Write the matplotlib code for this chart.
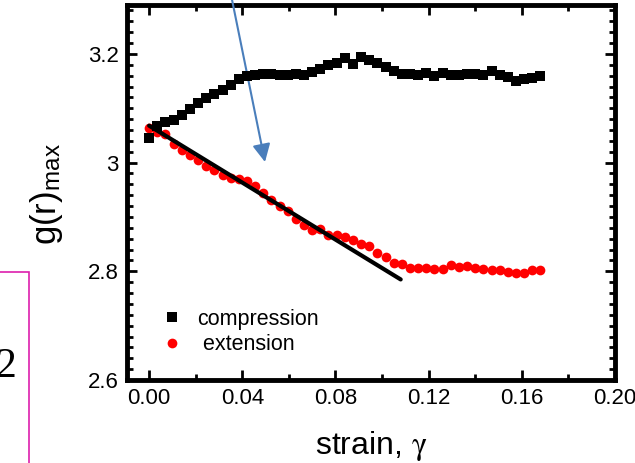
import numpy as np
import matplotlib.pyplot as plt
from matplotlib.patches import Rectangle

plt.rcParams['font.family'] = ['Liberation Sans', 'DejaVu Sans']
plt.rcParams['mathtext.fontset'] = 'stix'

strain = [0.0, 0.0035, 0.007, 0.0105, 0.014, 0.0175, 0.021, 0.0245, 0.028, 0.0315,
          0.035, 0.0385, 0.042, 0.0455, 0.049, 0.0525, 0.056, 0.0595, 0.063, 0.0665,
          0.07, 0.0735, 0.077, 0.0805, 0.084, 0.0875, 0.091, 0.0945, 0.098, 0.1015,
          0.105, 0.1085, 0.112, 0.1155, 0.119, 0.1225, 0.126, 0.1295, 0.133, 0.1365,
          0.14, 0.1435, 0.147, 0.1505, 0.154, 0.1575, 0.161, 0.1645, 0.168]

compression = [3.045, 3.068, 3.075, 3.078, 3.088, 3.098, 3.110, 3.118, 3.127, 3.133,
               3.143, 3.153, 3.159, 3.161, 3.163, 3.163, 3.161, 3.161, 3.163, 3.161,
               3.167, 3.173, 3.180, 3.184, 3.192, 3.182, 3.194, 3.188, 3.184, 3.175,
               3.169, 3.163, 3.163, 3.161, 3.165, 3.159, 3.165, 3.161, 3.161, 3.163,
               3.163, 3.161, 3.169, 3.161, 3.157, 3.151, 3.153, 3.155, 3.159]

extension = [3.063, 3.057, 3.053, 3.035, 3.024, 3.014, 3.004, 2.994, 2.987, 2.978,
             2.972, 2.970, 2.966, 2.957, 2.944, 2.931, 2.920, 2.911, 2.896, 2.885,
             2.876, 2.878, 2.867, 2.867, 2.863, 2.857, 2.850, 2.846, 2.833, 2.826,
             2.815, 2.813, 2.806, 2.806, 2.806, 2.804, 2.804, 2.811, 2.807, 2.809,
             2.806, 2.804, 2.802, 2.802, 2.798, 2.797, 2.797, 2.802, 2.802]

# linear fit over the early extension regime
fit_x = [0.0, 0.108]
fit_y = [3.068, 2.785]

fig = plt.figure(figsize=(6.35, 4.63), dpi=100)
ax = fig.add_axes([0.2, 0.1793, 0.7685, 0.8099])

ax.plot(strain, extension, 'o', color='red', ms=7, mew=0, label=' extension', zorder=2)
ax.plot(fit_x, fit_y, '-', color='black', lw=3, solid_capstyle='round', zorder=3)
ax.plot(strain, compression, 's', color='black', ms=6.5, mew=0, label='compression', zorder=4)

ax.set_xlim(-0.0095, 0.2)
ax.set_ylim(2.6, 3.29)
ax.set_xticks([0.0, 0.04, 0.08, 0.12, 0.16, 0.20])
ax.set_xticklabels(['0.00', '0.04', '0.08', '0.12', '0.16', '0.20'])
ax.set_xticks(np.arange(0.0, 0.201, 0.02), minor=True)
ax.set_yticks([2.6, 2.8, 3.0, 3.2])
ax.set_yticklabels(['2.6', '2.8', '3', '3.2'])
ax.set_yticks(np.arange(2.6, 3.29, 0.02), minor=True)

for s in ax.spines.values():
    s.set_linewidth(3.5)
ax.tick_params(which='both', direction='in', top=True, right=True, labelsize=16, colors='black')
ax.tick_params(which='major', length=7, width=2, pad=6)
ax.tick_params(which='minor', length=4, width=2)

ax.set_xlabel(r'strain, $\mathrm{\gamma}$', fontsize=23, labelpad=14)
ax.set_ylabel(r'g(r)$_{\mathregular{max}}$', fontsize=25)
ax.yaxis.set_label_coords(-0.128, 0.495)

h, l = ax.get_legend_handles_labels()
ax.legend(h[::-1], l[::-1], loc='upper left', bbox_to_anchor=(0.07, 0.19),
          frameon=False, fontsize=15.5, handlelength=1.0, handletextpad=0.65,
          labelspacing=0.2, borderpad=0, borderaxespad=0)

# pointer arrow from above the plot
ax.annotate('', xy=(265 / 635, 1 - 162 / 463), xytext=(228 / 635, 483 / 463),
            xycoords='figure fraction', textcoords='figure fraction',
            arrowprops=dict(arrowstyle='-|>', color='#4a7ebb', lw=1.5,
                            mutation_scale=27, shrinkA=0, shrinkB=0),
            annotation_clip=False)

# side box with its equation number
fig.patches.append(Rectangle((-0.01, -0.02), 0.01 + 29 / 635, 0.02 + 191 / 463,
                             transform=fig.transFigure, fill=False,
                             edgecolor='#dd1fad', lw=1.2))
fig.text(16 / 635, 86 / 463, '2', ha='right', va='baseline',
         family='Liberation Serif', fontsize=30)

fig.savefig('out.png', dpi=100)
